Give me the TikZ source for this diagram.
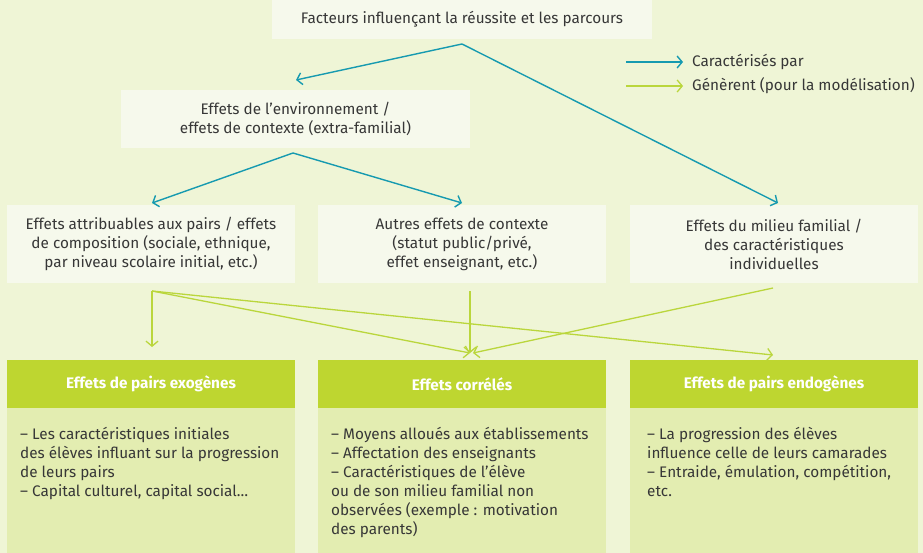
\documentclass[tikz,border=0pt]{standalone}
\usepackage{fontspec}
\setmainfont{Fira Sans}
\usetikzlibrary{arrows.meta}
\definecolor{bg}{RGB}{239,245,214}
\definecolor{boxfill}{RGB}{246,249,236}
\definecolor{head}{RGB}{190,214,48}
\definecolor{body}{RGB}{227,237,177}
\definecolor{teal}{RGB}{22,154,176}
\definecolor{lgreen}{RGB}{186,214,60}
\definecolor{txt}{RGB}{55,55,55}
\newcommand{\mainsize}{\fontsize{15.3}{19}\selectfont}
\tikzset{
  lightbox/.style={fill=boxfill, inner sep=0pt, align=center, text=txt, font=\mainsize},
  headbox/.style={fill=head, inner sep=0pt, minimum width=288pt, minimum height=48pt, text=white, font=\fontsize{15.3}{19}\selectfont\bfseries},
  bodybox/.style={fill=body, inner sep=0pt, minimum width=288pt, minimum height=145pt},
  bodytext/.style={anchor=north west, inner sep=0pt, align=left, text=txt, font=\mainsize},
  tealarrow/.style={draw=teal, line width=1.4pt, -{Straight Barb[length=5pt,width=12pt,line width=1.4pt]}},
  greenarrow/.style={draw=lgreen, line width=1.3pt, -{Straight Barb[length=5pt,width=12pt,line width=1.3pt]}},
  legtext/.style={anchor=west, inner sep=0pt, text=txt, font=\mainsize}
}
\begin{document}
\begin{tikzpicture}[x=1pt,y=-1pt]
\fill[bg] (0,0) rectangle (923,553);
\useasboundingbox (0,0) rectangle (923,553);

% top nodes
\node[lightbox, minimum width=380pt, minimum height=40pt] (top) at (462,19) {Facteurs influençant la réussite et les parcours};
\node[lightbox, minimum width=349pt, minimum height=58pt] (env) at (295.5,119) {Effets de l’environnement /\\effets de contexte (extra-familial)};

% row 2
\node[lightbox, minimum width=288pt, minimum height=78pt] (pairs) at (151,244) {Effets attribuables aux pairs / effets\\de composition (sociale, ethnique,\\par niveau scolaire initial, etc.)};
\node[lightbox, minimum width=288pt, minimum height=78pt] (autres) at (462,244) {Autres effets de contexte\\(statut public/privé,\\effet enseignant, etc.)};
\node[lightbox, minimum width=288pt, minimum height=78pt] (fam) at (774,244) {Effets du milieu familial /\\des caractéristiques\\individuelles};

% row 3 bodies
\node[bodybox] (b1) at (151,480.5) {};
\node[bodybox] (b2) at (462,480.5) {};
\node[bodybox] (b3) at (774,480.5) {};
\node[headbox] (exo) at (151,384) {Effets de pairs exogènes};
\node[headbox] (corr) at (462,384) {Effets corrélés};
\node[headbox] (endo) at (774,384) {Effets de pairs endogènes};

\node[bodytext] (t1) at (20,427) {– Les caractéristiques initiales\\des élèves influant sur la progression\\de leurs pairs\\– Capital culturel, capital social…};
\node[bodytext] (t2) at (331,427) {– Moyens alloués aux établissements\\– Affectation des enseignants\\– Caractéristiques de l’élève\\ou de son milieu familial non\\observées (exemple : motivation\\des parents)};
\node[bodytext] (t3) at (647,427) {– La progression des élèves\\influence celle de leurs camarades\\– Entraide, émulation, compétition,\\etc.};

% legend
\coordinate (l1a) at (626,62);
\coordinate (l1b) at (683,62);
\coordinate (l2a) at (626,86);
\coordinate (l2b) at (683,86);
\draw[tealarrow] (l1a) -- (l1b);
\draw[greenarrow] (l2a) -- (l2b);
\node[legtext] (leg1) at (692,62) {Caractérisés par};
\node[legtext] (leg2) at (692,86) {Génèrent (pour la modélisation)};

% teal connectors
\coordinate (topout) at (462,44);
\coordinate (envin) at (296,80);
\coordinate (famin) at (778,203);
\coordinate (envout) at (293,153);
\coordinate (pairsin) at (152,203);
\coordinate (autresin) at (462,203);
\draw[tealarrow] (topout) -- (envin);
\draw[tealarrow] (topout) -- (famin);
\draw[tealarrow] (envout) -- (pairsin);
\draw[tealarrow] (envout) -- (autresin);

% green connectors
\coordinate (pairsout) at (152,291);
\coordinate (autresout) at (470,291);
\coordinate (famout) at (773,288);
\coordinate (exoin) at (152,347);
\coordinate (corrin) at (470,353);
\coordinate (corrin2) at (473,353);
\coordinate (endoin) at (773,355);
\draw[greenarrow] (pairsout) -- (exoin);
\draw[greenarrow] (pairsout) -- (corrin);
\draw[greenarrow] (pairsout) -- (endoin);
\draw[greenarrow] (autresout) -- (corrin);
\draw[greenarrow] (famout) -- (corrin2);
\end{tikzpicture}
\end{document}
